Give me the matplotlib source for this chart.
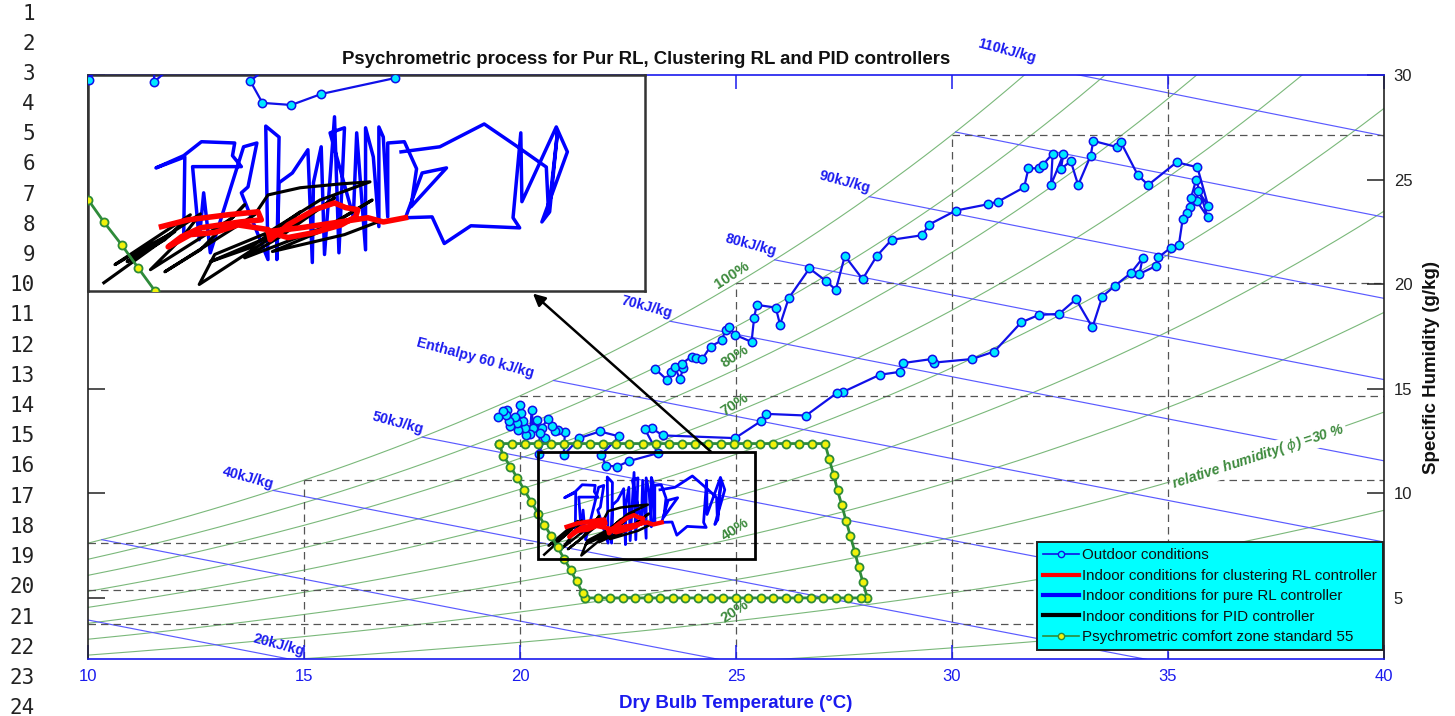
import numpy as np
import matplotlib
matplotlib.use('Agg')
import matplotlib.pyplot as plt
from matplotlib.patches import Rectangle
from matplotlib.lines import Line2D

plt.rcParams['font.family'] = ['Liberation Sans', 'DejaVu Sans']

# ---------------- data (T in degC, W in g/kg) ----------------
rh_levels = [10, 20, 30, 40, 50, 60, 70, 80, 90, 100]
enthalpy_levels = [20, 30, 40, 50, 60, 70, 80, 90, 100, 110]
grid_temps = [0, 5, 10, 15, 20, 25, 30, 35]
x_ticks = [10, 15, 20, 25, 30, 35, 40]
y_ticks = [5, 10, 15, 20, 25, 30]

outdoor = [(23.13, 15.95), (23.40, 15.43), (23.49, 15.78), (23.59, 16.02), (23.70, 15.46),
           (23.78, 15.99), (23.74, 16.19), (23.97, 16.54), (24.07, 16.46), (24.22, 16.43),
           (24.41, 17.02), (24.67, 17.31), (24.76, 17.82), (24.84, 17.93), (24.98, 17.58),
           (25.36, 17.24), (25.42, 18.40), (25.48, 19.01), (25.92, 18.88), (26.02, 18.06),
           (26.22, 19.33), (26.70, 20.75), (27.08, 20.16), (27.31, 19.73), (27.52, 21.35),
           (27.93, 20.24), (28.26, 21.35), (28.60, 22.12), (29.31, 22.34), (29.47, 22.85),
           (30.09, 23.52), (30.83, 23.82), (31.07, 23.95), (31.67, 24.63), (31.77, 25.54),
           (32.01, 25.54), (32.10, 25.70), (32.33, 26.24), (32.29, 24.74), (32.58, 26.21),
           (32.52, 25.51), (32.75, 25.88), (32.92, 24.74), (33.21, 26.14), (33.27, 26.85),
           (33.83, 26.55), (33.91, 26.78), (34.30, 25.22), (34.54, 24.74), (35.20, 25.83),
           (35.68, 25.59), (35.93, 23.74), (35.70, 24.46), (35.66, 23.99), (35.92, 23.20),
           (35.65, 24.98), (35.53, 24.11), (35.51, 23.71), (35.45, 23.42), (35.34, 23.11),
           (35.25, 21.86), (35.07, 21.75), (34.78, 21.29), (34.72, 20.87), (34.34, 20.49),
           (34.41, 21.24), (34.14, 20.53), (33.77, 19.92), (33.48, 19.41), (33.25, 17.93),
           (32.87, 19.28), (32.48, 18.58), (32.01, 18.53), (31.60, 18.17), (30.98, 16.78),
           (30.46, 16.42), (29.58, 16.25), (29.53, 16.42), (28.87, 16.23), (28.80, 15.81),
           (28.33, 15.67), (27.48, 14.85), (27.33, 14.79), (26.62, 13.72), (25.69, 13.80),
           (25.57, 13.44), (24.98, 12.64), (23.30, 12.77), (23.05, 13.12), (22.89, 13.07),
           (23.19, 11.92), (22.52, 11.54), (22.25, 11.28), (21.99, 11.33), (21.88, 11.85),
           (22.30, 12.72), (21.85, 12.96), (21.37, 12.64), (21.01, 11.82), (21.04, 12.93),
           (20.89, 13.04), (20.81, 12.96), (20.73, 13.20), (20.64, 13.56), (20.50, 13.12),
           (20.58, 12.64), (20.43, 11.87), (20.46, 12.88), (20.39, 13.52), (20.31, 13.12),
           (20.27, 13.99), (20.23, 12.83), (20.14, 12.80), (20.12, 13.12), (20.08, 13.47),
           (20.02, 13.84), (20.00, 14.23), (19.96, 13.04), (19.92, 13.36), (19.88, 13.67),
           (19.78, 13.20), (19.75, 13.44), (19.69, 13.99), (19.67, 13.76), (19.61, 13.95),
           (19.50, 13.63)]

clustering_rl = [(21.08, 8.40), (21.32, 8.56), (21.68, 8.68), (21.95, 8.75), (21.98, 8.56),
                 (21.79, 8.51), (21.43, 8.37), (21.26, 8.16), (21.14, 7.92), (21.34, 8.21),
                 (21.56, 8.26), (21.77, 8.44), (22.04, 8.33), (22.06, 8.09), (22.22, 8.44),
                 (22.46, 8.80), (22.64, 8.96), (22.74, 8.85), (22.85, 8.80), (22.83, 8.63),
                 (22.70, 8.44), (22.46, 8.26), (22.22, 8.14), (22.04, 8.28), (22.33, 8.37),
                 (22.69, 8.51), (22.94, 8.61), (23.08, 8.51), (23.28, 8.61)]

pure_rl = [(21.28, 8.16), (21.29, 10.05), (21.03, 9.79), (21.28, 10.08), (21.44, 10.41),
           (21.74, 10.38), (21.72, 10.08), (21.80, 9.82), (21.36, 9.82), (21.42, 8.09),
           (21.46, 9.20), (21.52, 7.78), (21.82, 10.29), (21.94, 10.38), (21.86, 9.34),
           (21.80, 9.20), (22.04, 7.62), (22.02, 10.78), (22.14, 10.52), (22.12, 7.62),
           (22.14, 9.44), (22.26, 9.67), (22.40, 10.22), (22.44, 7.55), (22.45, 9.44),
           (22.52, 10.29), (22.55, 7.74), (22.64, 11.00), (22.68, 7.78), (22.73, 10.74),
           (22.60, 10.62), (22.81, 8.63), (22.84, 10.62), (22.92, 7.85), (22.92, 10.74),
           (22.99, 10.05), (23.04, 8.40), (23.04, 10.76), (23.08, 10.52), (23.12, 8.63),
           (23.12, 10.38), (23.27, 10.41), (23.38, 9.77), (23.33, 8.87), (23.65, 9.79),
           (23.43, 9.67), (23.28, 8.61), (23.52, 8.63), (23.63, 8.00), (23.87, 8.42),
           (24.31, 8.37), (24.25, 8.61), (24.32, 10.62), (24.33, 8.99), (24.64, 10.76),
           (24.74, 10.17), (24.51, 8.51), (24.58, 8.75), (24.65, 10.62), (24.57, 8.73),
           (24.55, 9.81), (24.28, 10.31), (23.99, 10.83), (23.59, 10.29), (23.24, 10.17)]

pid = [(20.56, 7.07), (21.20, 8.28), (20.89, 7.85), (20.66, 7.50), (21.34, 8.68),
       (21.11, 8.09), (20.77, 7.57), (21.43, 8.70), (21.25, 8.09), (20.98, 7.38),
       (21.72, 8.61), (21.83, 8.92), (21.43, 7.85), (21.11, 7.33), (21.92, 8.68),
       (22.04, 9.15), (22.33, 9.32), (22.69, 9.41), (22.96, 9.46), (22.51, 9.03),
       (22.04, 8.26), (21.56, 7.74), (21.42, 7.03), (22.04, 8.09), (22.33, 8.75),
       (21.88, 7.90), (21.52, 7.57), (22.24, 8.37), (22.64, 9.08), (22.15, 8.16),
       (21.83, 7.66), (22.60, 8.44), (22.98, 9.03), (22.51, 8.28), (22.08, 7.81),
       (22.73, 8.21), (23.03, 8.51)]

comfort_zone = [(19.52, 12.38), (19.82, 12.38), (20.12, 12.38), (20.42, 12.38), (20.72, 12.38),
                (21.02, 12.38), (21.33, 12.38), (21.63, 12.38), (21.93, 12.38), (22.23, 12.38),
                (22.53, 12.38), (22.84, 12.38), (23.14, 12.38), (23.44, 12.38), (23.74, 12.38),
                (24.04, 12.38), (24.35, 12.38), (24.65, 12.38), (24.95, 12.38), (25.25, 12.38),
                (25.55, 12.38), (25.86, 12.38), (26.16, 12.38), (26.46, 12.38), (26.76, 12.38),
                (27.06, 12.38),
                (27.16, 11.62), (27.26, 10.89), (27.35, 10.15), (27.45, 9.42), (27.55, 8.68),
                (27.65, 7.94), (27.75, 7.21), (27.84, 6.47), (27.94, 5.74), (28.04, 5.00),
                (27.89, 5.00), (27.60, 5.00), (27.31, 5.00), (27.02, 5.00), (26.73, 5.00),
                (26.44, 5.00), (26.15, 5.00), (25.86, 5.00), (25.57, 5.00), (25.28, 5.00),
                (24.99, 5.00), (24.70, 5.00), (24.41, 5.00), (24.12, 5.00), (23.83, 5.00),
                (23.54, 5.00), (23.25, 5.00), (22.96, 5.00), (22.67, 5.00), (22.38, 5.00),
                (22.09, 5.00), (21.80, 5.00), (21.51, 5.00),
                (21.45, 5.24), (21.31, 5.79), (21.17, 6.34), (21.02, 6.88), (20.87, 7.42),
                (20.72, 7.97), (20.56, 8.51), (20.42, 9.03), (20.26, 9.59), (20.10, 10.16),
                (19.94, 10.72), (19.78, 11.28), (19.61, 11.80), (19.52, 12.38)]

zoom_box = (20.417, 25.44, 6.875, 11.99)   # T range, W range of the magnified region

legend_labels = ['Outdoor conditions',
                 'Indoor conditions for clustering RL controller',
                 'Indoor conditions for pure RL controller',
                 'Indoor conditions for PID controller',
                 'Psychrometric comfort zone standard 55']

enthalpy_text = [('110kJ/kg', 31.27, 31.15), ('90kJ/kg', 27.52, 24.89), ('80kJ/kg', 25.35, 21.88),
                 ('70kJ/kg', 22.92, 18.92), ('Enthalpy 60 kJ/kg', 18.96, 16.48),
                 ('50kJ/kg', 17.18, 13.37), ('40kJ/kg', 13.70, 10.74), ('20kJ/kg', 14.42, 2.77)]
rh_text = [('100%', 24.91, 20.45), ('80%', 24.98, 16.53), ('70%', 24.98, 14.23),
           ('40%', 24.98, 8.26), ('20%', 24.98, 4.34)]

# ---------------- psychrometrics ----------------
P_ATM = 101.325


def p_ws(T):
    return 0.61094 * np.exp(17.625 * T / (T + 243.04))


def w_rh(T, phi):
    p = phi * p_ws(T)
    return 622.0 * p / (P_ATM - p)


def w_h(T, h):
    return (h - 1.006 * T) / (2501.0 + 1.86 * T) * 1000.0


# ---------------- figure ----------------
FW, FH = 1455, 716
fig = plt.figure(figsize=(FW / 100, FH / 100), dpi=100)


def fx(px):
    return px / FW


def fy(py):
    return 1 - py / FH


ax = fig.add_axes([fx(88), fy(659), fx(1384) - fx(88), fy(75) - fy(659)])
XMIN, XMAX, YMIN, YMAX = 10, 40, 2.08, 30
ax.set_xlim(XMIN, XMAX)
ax.set_ylim(YMIN, YMAX)

rh_col = '#7ab87a'
h_col = '#5a5aff'
Tg = np.linspace(XMIN, XMAX, 800)
for phi in rh_levels:
    ax.plot(Tg, w_rh(Tg, phi / 100.0), color=rh_col, lw=0.8, zorder=1)

Tfine = np.linspace(-10, 50, 6001)
hsat = 1.006 * Tfine + w_rh(Tfine, 1.0) / 1000.0 * (2501 + 1.86 * Tfine)
for h in enthalpy_levels:
    Ts = np.interp(h, hsat, Tfine)
    T0 = max(Ts, XMIN)
    Th = np.linspace(T0, XMAX, 300)
    ax.plot(Th, w_h(Th, h), color=h_col, lw=0.85, zorder=1)

for T0 in grid_temps:
    ws0 = w_rh(T0, 1.0)
    if T0 > XMIN:
        ax.plot([T0, T0], [YMIN, min(ws0, YMAX)], color='#555555', lw=0.9,
                ls=(0, (6, 4)), zorder=1.5)
    if ws0 < YMAX:
        ax.plot([max(T0, XMIN), XMAX], [ws0, ws0], color='#555555', lw=0.9,
                ls=(0, (6, 4)), zorder=1.5)

for s, t, w in enthalpy_text:
    ax.text(t, w, s, color='#1c1cf0', fontsize=10.3, fontweight='bold', rotation=-15,
            ha='center', va='center', rotation_mode='anchor', clip_on=False, zorder=2)
for s, t, w in rh_text:
    ax.text(t, w, s, color='#3d8a3d', fontsize=10.8, fontweight='bold', rotation=33,
            ha='center', va='center', rotation_mode='anchor', zorder=2)
ax.text(37.1, 11.75, r'relative humidity( $\phi$) =30 %', color='#3d8a3d', fontsize=10.2,
        fontweight='bold', style='italic', rotation=18, ha='center', va='center',
        rotation_mode='anchor', zorder=2,
        bbox=dict(facecolor='white', edgecolor='none', pad=1.0))


def draw_series(a, lw_scale=1.0):
    oT, oW = zip(*outdoor)
    a.plot(oT, oW, '-o', color='#1010e8', lw=1.6, ms=6.0, mfc='#00e8ff', mec='#1010e8',
           mew=1.1, zorder=3)
    pT, pW = zip(*pure_rl)
    a.plot(pT, pW, color='#0000ff', lw=2.0 * lw_scale, zorder=4)
    kT, kW = zip(*pid)
    a.plot(kT, kW, color='black', lw=1.8 * lw_scale, zorder=5)
    cT, cW = zip(*clustering_rl)
    a.plot(cT, cW, color='#ff0000', lw=3.2 * lw_scale, zorder=6)
    zT, zW = zip(*comfort_zone)
    a.plot(zT, zW, '-o', color='#2e8b3a', lw=2.0, ms=5.8, mfc='#f2f20a', mec='#2e8b3a',
           mew=1.3, zorder=7)


draw_series(ax)

x0, x1, y0, y1 = zoom_box
ax.add_patch(Rectangle((x0, y0), x1 - x0, y1 - y0, fill=False, ec='black', lw=2.0, zorder=8))
ax.annotate('', xy=(20.30, 19.55), xytext=(24.42, 11.99),
            arrowprops=dict(arrowstyle='-|>', color='black', lw=1.8, mutation_scale=18,
                            shrinkA=0, shrinkB=0),
            annotation_clip=False, zorder=9)

# axes styling
ax.set_xticks(x_ticks)
ax.set_yticks(y_ticks)
ax.tick_params(axis='x', colors='#1a1aee', direction='in', length=10, width=1.1,
               top=True, bottom=True, labelsize=12, pad=7)
ax.tick_params(axis='y', direction='in', length=12, width=1.1, left=True, right=True,
               labelleft=False, labelright=True, labelsize=12, pad=7, colors='#222222')
for side in ['bottom', 'top']:
    ax.spines[side].set_color('#1a1aee')
    ax.spines[side].set_linewidth(1.2)
for side in ['left', 'right']:
    ax.spines[side].set_color('#222222')
    ax.spines[side].set_linewidth(1.2)

ax.set_xlabel('Dry Bulb Temperature (\u00b0C)', color='#1a1aee', fontsize=13.5, fontweight='bold')
ax.xaxis.set_label_coords(0.5, -0.0755)
ax.xaxis.label.set_va('center')
ax.set_ylabel('Specific Humidity (g/kg)', fontsize=13.5, fontweight='bold', color='#111111')
ax.yaxis.set_label_position('right')
ax.yaxis.set_label_coords((1431 - 88) / 1296, 0.5)
ax.yaxis.label.set_va('center')

handles = [Line2D([], [], color='#1010e8', lw=1.2, marker='o', ms=4.5, mfc='#00ffff',
                  mec='#1010e8', mew=1.0),
           Line2D([], [], color='#ff0000', lw=3),
           Line2D([], [], color='#0000ff', lw=3),
           Line2D([], [], color='black', lw=3),
           Line2D([], [], color='#2e8b3a', lw=1.2, marker='o', ms=4.5, mfc='#f2f20a',
                  mec='#2e8b3a', mew=1.0)]
leg = ax.legend(handles, legend_labels, loc='lower right', bbox_to_anchor=(0.9995, 0.015),
                borderaxespad=0, fontsize=10.9, frameon=True, fancybox=False,
                handlelength=2.4, handletextpad=0.2, labelspacing=0.42, borderpad=0.42,
                framealpha=1)
leg.get_frame().set_facecolor('#00ffff')
leg.get_frame().set_edgecolor('#222222')
leg.get_frame().set_linewidth(1.4)
leg.set_zorder(20)
for t in leg.get_texts():
    t.set_color('#111111')

# inset (magnified view)
axi = fig.add_axes([fx(88), fy(291), fx(645) - fx(88), fy(75) - fy(291)])
axi.set_xlim(x0, x1)
axi.set_ylim(y0, y1)
axi.set_facecolor('white')
draw_series(axi, lw_scale=1.25)
axi.set_xticks([])
axi.set_yticks([])
for sp in axi.spines.values():
    sp.set_color('#333333')
    sp.set_linewidth(1.8)

# title
fig.text(fx(646), fy(60), 'Psychrometric process for Pur RL, Clustering RL and PID controllers',
         ha='center', va='center', fontsize=13.4, fontweight='bold', color='#111111')

# document line numbers
for n in range(1, 25):
    fig.text(fx(35), fy(13.5 + (n - 1) * 30.2), str(n), ha='right', va='center',
             family='DejaVu Sans Mono', fontsize=15, color='#222222')

fig.savefig('out.png', dpi=100)
